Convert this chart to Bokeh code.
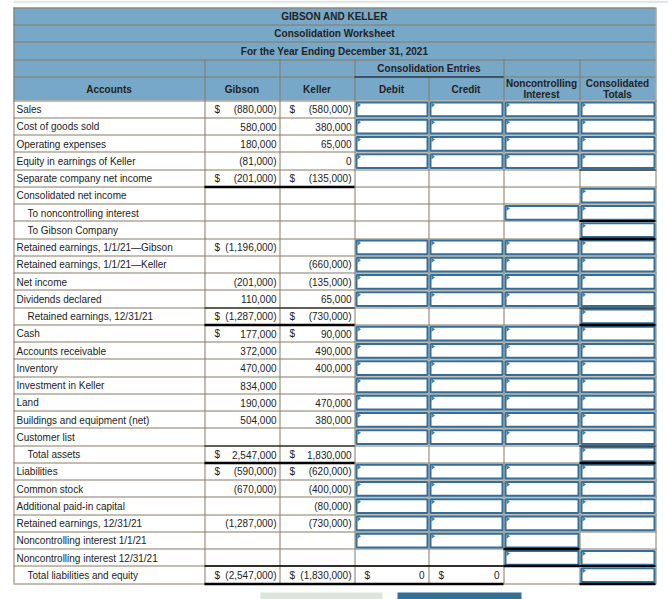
import math
from bokeh.plotting import figure
from bokeh.models import Range1d
from bokeh.embed import file_html
from bokeh.resources import INLINE
from bokeh.core.properties import value

# ---------------- data ----------------
title_lines = ["GIBSON AND KELLER", "Consolidation Worksheet",
               "For the Year Ending December 31, 2021"]
group_header = "Consolidation Entries"
col_headers = ["Accounts", "Gibson", "Keller", "Debit", "Credit"]
two_line_headers = [["Noncontrolling", "Interest"], ["Consolidated", "Totals"]]

accounts = [
    "Sales", "Cost of goods sold", "Operating expenses", "Equity in earnings of Keller",
    "Separate company net income", "Consolidated net income", "To noncontrolling interest",
    "To Gibson Company", "Retained earnings, 1/1/21\u2014Gibson",
    "Retained earnings, 1/1/21\u2014Keller", "Net income", "Dividends declared",
    "Retained earnings, 12/31/21", "Cash", "Accounts receivable", "Inventory",
    "Investment in Keller", "Land", "Buildings and equipment (net)", "Customer list",
    "Total assets", "Liabilities", "Common stock", "Additional paid-in capital",
    "Retained earnings, 12/31/21", "Noncontrolling interest 1/1/21",
    "Noncontrolling interest 12/31/21", "Total liabilities and equity"]
indented_rows = [6, 7, 12, 20, 27]

gibson = [-880000, 580000, 180000, -81000, -201000, None, None, None,
          -1196000, None, -201000, 110000, -1287000,
          177000, 372000, 470000, 834000, 190000, 504000, None, 2547000,
          -590000, -670000, None, -1287000, None, None, -2547000]
keller = [-580000, 380000, 65000, 0, -135000, None, None, None,
          None, -660000, -135000, 65000, -730000,
          90000, 490000, 400000, None, 470000, 380000, None, 1830000,
          -620000, -400000, -80000, -730000, None, None, -1830000]
dollar_rows = [0, 4, 8, 12, 13, 20, 21, 27]
debit_total = 0
credit_total = 0

# which answer cells are input boxes: D=Debit C=Credit N=Noncontrolling T=Totals
entry_cells = (["DCNT"] * 4 + ["", "T", "NT", "T"] + ["DCNT"] * 4 + ["T"]
               + ["DCNT"] * 7 + ["T"] + ["DCNT"] * 4 + ["DCN", "NT", "T"])

# ---------------- style / layout ----------------
FONT = value("Liberation Sans")
HDR_BG = "#78A8C8"
GRID = "#857A64"
BLUE = "#336E98"
MARK = "#3E80B4"
TXT = "#222222"

W, H = 668, 599
cols = [13, 204, 279, 354, 428, 503, 579, 655]
hdr = [7, 24, 41, 59, 76, 100]
NROW = len(accounts)
def ry(i):
    return 100 + 17.25 * i
def L(v):
    return math.floor(v) + 0.5

p = figure(width=W, height=H, x_range=Range1d(0, W), y_range=Range1d(H, 0),
           output_backend="svg", toolbar_location=None, min_border=0,
           x_axis_location=None, y_axis_location=None)
p.grid.visible = False
p.outline_line_color = None
p.background_fill_color = "white"
p.border_fill_color = "white"

# page decorations (top strip, bottom buttons)
p.quad(left=[13], right=[W], top=[0], bottom=[2.5], fill_color="#DFEAE6", line_color=None)
p.quad(left=[260], right=[382], top=[592], bottom=[H], fill_color="#DEE5DA", line_color=None)
p.quad(left=[397], right=[521], top=[592], bottom=[H], fill_color="#347095", line_color=None)

# backgrounds
p.quad(left=[cols[0]], right=[cols[-1]], top=[hdr[0]], bottom=[hdr[-1]],
       fill_color=HDR_BG, line_color=None)
p.quad(left=[cols[0]], right=[cols[-1]], top=[hdr[-1]], bottom=[ry(NROW)],
       fill_color="white", line_color=None)

# gray grid lines
sx0, sy0, sx1, sy1 = [], [], [], []
def seg(a, b, c, d):
    sx0.append(a); sy0.append(b); sx1.append(c); sy1.append(d)
for y in hdr[:4]:
    seg(cols[0], L(y), cols[-1], L(y))
seg(cols[0], L(76), cols[3], L(76))
seg(cols[5], L(76), cols[-1], L(76))
for i in range(NROW + 1):
    seg(cols[0], L(ry(i)), cols[-1] + 1, L(ry(i)))
for x in [cols[0], cols[-1]]:
    seg(L(x), hdr[0], L(x), ry(NROW))
for x in [cols[1], cols[2], cols[3], cols[5], cols[6]]:
    seg(L(x), hdr[3], L(x), ry(NROW))
seg(L(cols[4]), hdr[4], L(cols[4]), ry(NROW))
p.segment(x0=sx0, y0=sy0, x1=sx1, y1=sy1, line_color=GRID, line_width=1)

# input boxes
colmap = {"D": 3, "C": 4, "N": 5, "T": 6}
bl, br, bt, bb = [], [], [], []
tri_x, tri_y = [], []
for i, spec in enumerate(entry_cells):
    for ch in spec:
        c = colmap[ch]
        x0, x1 = cols[c], cols[c + 1]
        y0, y1 = ry(i), ry(i + 1)
        bl.append(x0 + 2); br.append(x1 - 1); bt.append(y0 + 2); bb.append(y1 - 1.5)
        tri_x.append([x0 + 3, x0 + 3, x0 + 6.5]); tri_y.append([y0 + 2, y0 + 7, y0 + 4.5])
p.quad(left=bl, right=br, top=bt, bottom=bb, fill_color="white",
       line_color=BLUE, line_width=2)
p.patches(xs=tri_x, ys=tri_y, fill_color=MARK, line_color=None)

# black rules
black = [(1, 3, 5, 2.5), (1, 3, 12, 1.2), (1, 3, 13, 2.5), (1, 3, 20, 1.2),
         (1, 3, 21, 2.5), (1, 5, 27, 1.5), (1, 5, 28, 2.5),
         (6, 7, 4, 1.2), (6, 7, 7, 2), (6, 7, 8, 2.5), (6, 7, 12, 1.2),
         (6, 7, 13, 2.5), (6, 7, 20, 1.2), (6, 7, 21, 2.5), (6, 7, 27, 2),
         (6, 7, 28, 2.5), (5, 6, 26, 2.5), (5, 6, 27, 2.5)]
kx0, ky, kx1, kw = [], [], [], []
for a, b, r, w in black:
    kx0.append(cols[a]); kx1.append(cols[b]); ky.append(L(ry(r))); kw.append(w)
p.segment(x0=kx0, y0=ky, x1=kx1, y1=ky, line_color="black", line_width=kw)
p.segment(x0=[cols[3]], y0=[L(76)], x1=[cols[5]], y1=[L(76)], line_color="black", line_width=1)

# header texts
mid = (cols[0] + cols[-1]) / 2
p.text(x=[mid] * 3, y=[16, 33, 50.5], text=title_lines, text_font=FONT,
       text_font_size="10px", text_font_style="bold", text_align="center",
       text_baseline="middle", text_color=TXT)
p.text(x=[(cols[3] + cols[5]) / 2], y=[68], text=[group_header], text_font=FONT,
       text_font_size="10px", text_font_style="bold", text_align="center",
       text_baseline="middle", text_color=TXT)
hx = [(cols[k] + cols[k + 1]) / 2 for k in range(5)]
p.text(x=hx, y=[89] * 5, text=col_headers, text_font=FONT, text_font_size="10px",
       text_font_style="bold", text_align="center", text_baseline="middle", text_color=TXT)
tx, ty, tt = [], [], []
for k, lines in enumerate(two_line_headers):
    c = 5 + k
    for j, s in enumerate(lines):
        tx.append((cols[c] + cols[c + 1]) / 2); ty.append(83 + 11 * j); tt.append(s)
p.text(x=tx, y=ty, text=tt, text_font=FONT, text_font_size="10px",
       text_font_style="bold", text_align="center", text_baseline="middle", text_color=TXT)

# account labels
ax = [27 if i in indented_rows else 16 for i in range(NROW)]
ay = [ry(i) + 9.2 for i in range(NROW)]
p.text(x=ax, y=ay, text=accounts, text_font=FONT, text_font_size="10px",
       text_baseline="middle", text_color=TXT)

def fmt(v):
    if v < 0:
        return "({:,})".format(-v)
    return "{:,}".format(v)

nx, ny, nt, dx, dy = [], [], [], [], []
for series, c in [(gibson, 1), (keller, 2)]:
    for i, v in enumerate(series):
        if v is None:
            continue
        nx.append(cols[c + 1] - 3); ny.append(ry(i) + 9.2); nt.append(fmt(v))
        if i in dollar_rows:
            dx.append(cols[c] + 10); dy.append(ry(i) + 9.2)
for v, c in [(debit_total, 3), (credit_total, 4)]:
    nx.append(cols[c + 1] - 4); ny.append(ry(27) + 9.2); nt.append(fmt(v))
    dx.append(cols[c] + 10); dy.append(ry(27) + 9.2)
p.text(x=nx, y=ny, text=nt, text_font=FONT, text_font_size="10px",
       text_align="right", text_baseline="middle", text_color=TXT)
p.text(x=dx, y=dy, text=["$"] * len(dx), text_font=FONT, text_font_size="10px",
       text_baseline="middle", text_color=TXT)

open("out.html", "w").write(file_html(p, INLINE))
